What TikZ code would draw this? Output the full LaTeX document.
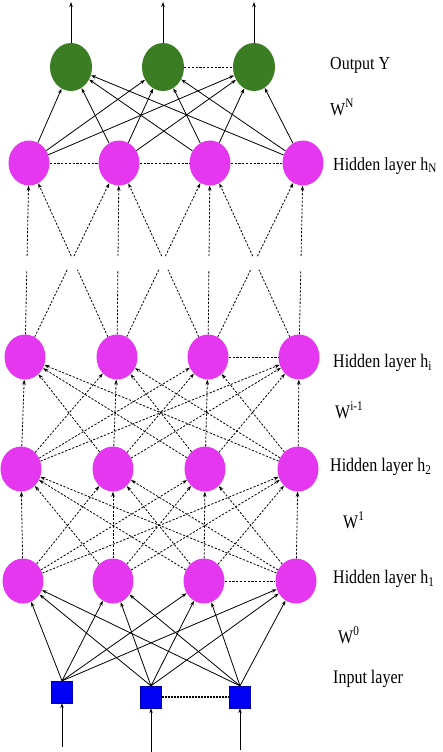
\documentclass[tikz,border=0pt]{standalone}
\usepackage{fontspec}
\setmainfont{Liberation Serif}
\usetikzlibrary{shapes.geometric,arrows.meta,calc}
\definecolor{nmag}{RGB}{230,55,240}
\definecolor{ngreen}{RGB}{58,125,35}
\definecolor{nblue}{RGB}{0,0,245}
\begin{document}
\begin{tikzpicture}[x=1pt,y=-1pt,
  hid/.style={ellipse,fill=nmag,minimum width=41pt,minimum height=45pt,inner sep=0pt},
  outn/.style={ellipse,fill=ngreen,minimum width=42pt,minimum height=48pt,inner sep=0pt},
  inn/.style={rectangle,fill=nblue,draw=nblue!70!black,line width=0.3pt,minimum width=21pt,minimum height=22pt,inner sep=0pt},
  arr/.style={line width=0.8pt,-{Stealth[length=5pt,width=3.5pt]}},
  darr/.style={line width=0.8pt,dash pattern=on 2.2pt off 1.6pt,-{Stealth[length=5pt,width=3.5pt]}},
  dln/.style={line width=0.8pt,dash pattern=on 2.2pt off 1.6pt},
  dots/.style={line width=1.4pt,dash pattern=on 2pt off 1pt},
  lab/.style={anchor=base west,inner sep=0pt,font=\fontsize{16}{19}\selectfont}]
\useasboundingbox (0,0) rectangle (442,752);
% nodes
\node[outn] (O1) at (71,67) {};
\node[outn] (O2) at (163,67) {};
\node[outn] (O3) at (254,67) {};
\foreach \n/\x in {1/29,2/119,3/210,4/303} \node[hid] (hN\n) at (\x,163) {};
\foreach \n/\x in {1/25,2/117,3/208,4/299} \node[hid] (hi\n) at (\x,357) {};
\foreach \n/\x in {1/21,2/113,3/205,4/298} \node[hid] (hb\n) at (\x,469) {};
\foreach \n/\x in {1/23,2/113,3/204,4/296} \node[hid] (ha\n) at (\x,581) {};
\node[inn] (In1) at (62,692) {};
\node[inn] (In2) at (151,697) {};
\node[inn] (In3) at (240,697) {};
% free ends
\coordinate (t1) at (71,2);
\coordinate (t2) at (163,2);
\coordinate (t3) at (254,2);
\coordinate (b1) at (62,747);
\coordinate (b2) at (151,752);
\coordinate (b3) at (240,750);
% output arrows
\foreach \j in {1,2,3} \draw[arr] (O\j) -- (t\j);
% input arrows
\foreach \j in {1,2,3} \draw[arr] (b\j) -- (In\j);
% W^N
\foreach \i in {1,...,4} \foreach \j in {1,2,3} \draw[arr] (hN\i) -- (O\j);
% gap section
\foreach \i/\j in {1/1,1/2,2/1,2/2,2/3,3/2,3/3,3/4,4/3,4/4}{
  \draw[dln] (hi\i) -- ($(hi\i)!0.45!(hN\j)$);
  \draw[darr] ($(hi\i)!0.52!(hN\j)$) -- (hN\j);
}
% W^{i-1}
\foreach \i in {1,...,4} \foreach \j in {1,...,4} \draw[darr] (hb\i) -- (hi\j);
% W^1
\foreach \i in {1,...,4} \foreach \j in {1,...,4} \draw[darr] (ha\i) -- (hb\j);
% W^0
\foreach \i in {1,2,3} \foreach \j in {1,...,4} \draw[arr] (In\i.north) -- (ha\j);
% horizontal dashed
\draw[dln] (O2) -- (O3);
\draw[dln] (hN1) -- (hN2);
\draw[dln] (hN2) -- (hN3);
\draw[dln] (hN3) -- (hN4);
\draw[dln] (hi3) -- (hi4);
\draw[dln] (ha3) -- (ha4);
\draw[dots] (In2) -- (In3);
% labels
\node[lab] (l1) at (330,70) {\scalebox{1}[1.15]{Output Y}};
\node[lab] (l2) at (330,115) {\scalebox{1}[1.15]{W\textsuperscript{N}}};
\node[lab] (l3) at (333,170) {\scalebox{1}[1.15]{Hidden layer h\textsubscript{N}}};
\node[lab] (l4) at (333,367) {\scalebox{1}[1.2]{Hidden layer h\textsubscript{i}}};
\node[lab] (l5) at (335,418) {\scalebox{1}[1.2]{W\textsuperscript{i-1}}};
\node[lab] (l6) at (330,471) {\scalebox{1}[1.2]{Hidden layer h\textsubscript{2}}};
\node[lab] (l7) at (343,528) {\scalebox{1}[1.2]{W\textsuperscript{1}}};
\node[lab] (l8) at (333,583) {\scalebox{1}[1.2]{Hidden layer h\textsubscript{1}}};
\node[lab] (l9) at (338,643) {\scalebox{1}[1.2]{W\textsuperscript{0}}};
\node[lab] (l10) at (333,683) {\scalebox{1}[1.2]{Input layer}};
\end{tikzpicture}
\end{document}
